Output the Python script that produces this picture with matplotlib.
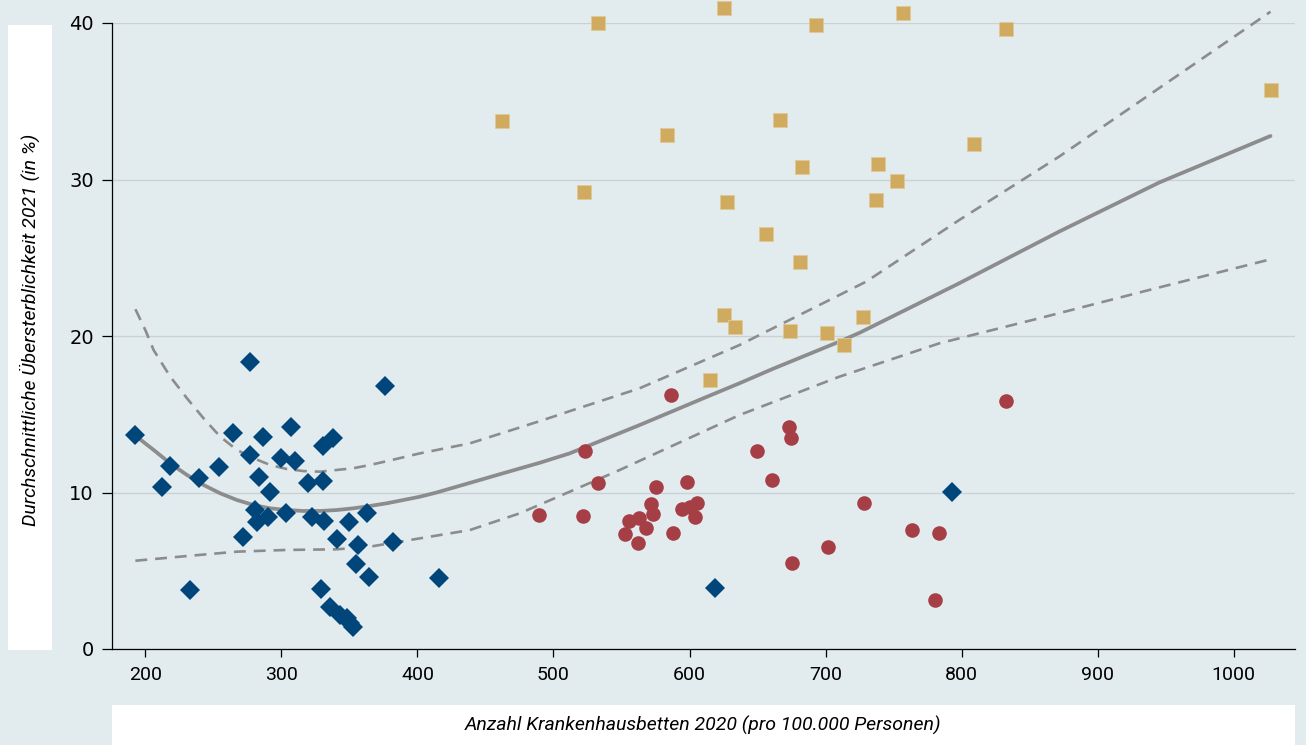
import matplotlib
matplotlib.use("Agg")
import matplotlib.pyplot as plt
from matplotlib.patches import Rectangle

# blue diamonds
blue_x = [277.1, 376.4, 192.7, 218.3, 212.2, 239.1, 254.5, 264.8, 286.4, 307.2,
          277.1, 283.9, 299.8, 310.1, 330.9, 337.7, 291.7, 319.4, 330.9, 280.7,
          282.0, 290.5, 303.5, 322.4, 331.6, 349.9, 362.7, 271.7, 341.2, 356.6,
          381.8, 354.9, 364.6, 415.8, 233.0, 329.2, 335.8, 343.1, 348.0, 350.5,
          352.9, 618.9, 792.7]
blue_y = [18.36, 16.8, 13.67, 11.7, 10.37, 10.95, 11.65, 13.78, 13.57, 14.2,
          12.4, 11.0, 12.19, 12.01, 12.97, 13.46, 10.01, 10.59, 10.73, 8.88,
          8.13, 8.46, 8.67, 8.46, 8.18, 8.13, 8.67, 7.18, 7.03, 6.65,
          6.82, 5.41, 4.62, 4.52, 3.77, 3.81, 2.71, 2.17, 1.96, 1.64,
          1.39, 3.92, 10.05]

# red circles
red_x = [586.2, 832.8, 672.9, 674.7, 523.2, 649.6, 660.3, 532.9, 575.1, 597.8,
         489.6, 521.4, 571.6, 573.3, 555.4, 563.0, 567.8, 552.8, 562.3, 588.2,
         594.8, 600.5, 605.8, 603.7, 728.1, 763.5, 783.5, 701.9, 675.5, 780.1]
red_y = [16.23, 15.85, 14.16, 13.5, 12.67, 12.65, 10.78, 10.59, 10.33, 10.65,
         8.54, 8.52, 9.27, 8.6, 8.18, 8.35, 7.75, 7.33, 6.75, 7.44,
         8.93, 9.09, 9.31, 8.42, 9.35, 7.6, 7.39, 6.54, 5.47, 3.13]

# yellow squares
gold_x = [625.2, 533.0, 693.0, 756.6, 461.8, 583.6, 666.8, 683.0, 738.2, 752.2,
          737.0, 522.5, 627.4, 656.3, 681.0, 625.5, 633.2, 673.6, 701.0, 727.2,
          713.8, 615.2, 832.9, 809.2, 1027.0]
gold_y = [40.99, 40.02, 39.85, 40.66, 33.74, 32.84, 33.8, 30.82, 30.97, 29.9,
          28.69, 29.2, 28.58, 26.5, 24.75, 21.36, 20.6, 20.34, 20.21, 21.19,
          19.4, 17.19, 39.62, 32.27, 35.72]

# fitted curve
fit_x = [192.7, 206.1, 218.3, 230.6, 242.8, 255.0, 267.3, 279.5, 291.7, 304.0,
         316.2, 328.5, 340.7, 352.9, 365.1, 377.4, 401.8, 414.1, 463.0, 489.9,
         511.9, 563.3, 612.3, 636.7, 661.2, 710.1, 724.8, 798.2, 871.6, 945.0,
         1027.0]
fit_y = [13.63, 12.72, 11.86, 11.12, 10.48, 9.95, 9.52, 9.2, 8.99, 8.88,
         8.82, 8.82, 8.88, 8.99, 9.14, 9.31, 9.73, 10.0, 11.23, 11.9,
         12.5, 14.31, 16.1, 16.98, 17.9, 19.64, 20.2, 23.37, 26.67, 29.8,
         32.78]
# upper confidence band
upper_x = [192.7, 200.0, 206.1, 218.3, 230.6, 242.8, 255.0, 267.3, 279.5, 291.7,
           304.0, 316.2, 328.5, 352.9, 365.1, 377.4, 401.8, 438.5, 492.4, 514.4,
           563.3, 636.7, 661.2, 729.7, 798.2, 871.6, 945.0, 1027.0]
upper_y = [21.71, 20.38, 19.1, 17.4, 16.02, 14.74, 13.57, 12.72, 12.19, 11.76,
           11.5, 11.37, 11.33, 11.55, 11.76, 12.0, 12.5, 13.14, 14.63, 15.27,
           16.66, 19.42, 20.49, 23.47, 27.41, 31.46, 35.83, 40.72]
# lower confidence band
lower_x = [192.7, 230.6, 267.3, 304.0, 340.7, 365.1, 401.8, 438.5, 475.2, 511.9,
           548.7, 578.0, 636.7, 710.1, 783.5, 856.9, 945.0, 1027.0]
lower_y = [5.64, 5.94, 6.22, 6.33, 6.37, 6.54, 7.07, 7.6, 8.67, 10.05,
           11.44, 12.61, 14.95, 17.4, 19.53, 21.13, 23.1, 24.9]

x_ticks = [200, 300, 400, 500, 600, 700, 800, 900, 1000]
y_ticks = [0, 10, 20, 30, 40]
x_label = "Anzahl Krankenhausbetten 2020 (pro 100.000 Personen)"
y_label = "Durchschnittliche Übersterblichkeit 2021 (in %)"

BG = "#e2ecef"
NARROW = ["Liberation Sans Narrow", "Roboto", "DejaVu Sans"]
LINE = "#8c8c8c"

fig = plt.figure(figsize=(13.06, 7.45), dpi=100, facecolor=BG)
ax = fig.add_axes([112 / 1306, 1 - 649 / 745, (1295 - 112) / 1306, (649 - 23) / 745])
ax.set_facecolor(BG)

# white label boxes
fig.patches.append(Rectangle((8 / 1306, 1 - 650 / 745), 44 / 1306, 625 / 745,
                             transform=fig.transFigure, facecolor="white",
                             edgecolor="none", zorder=0))
fig.patches.append(Rectangle((112 / 1306, 0), (1295 - 112) / 1306, 40 / 745,
                             transform=fig.transFigure, facecolor="white",
                             edgecolor="none", zorder=0))

ax.set_xlim(175.5, 1045)
ax.set_ylim(0, 40)
ax.set_yticks(y_ticks)
ax.set_xticks(x_ticks)
ax.yaxis.grid(True, color="#c9d1d4", lw=1.0)
ax.set_axisbelow(True)
for s in ("top", "right"):
    ax.spines[s].set_visible(False)
for s in ("left", "bottom"):
    ax.spines[s].set_color("black")
    ax.spines[s].set_linewidth(0.9)
ax.tick_params(axis="y", length=7, width=0.9, labelsize=14, pad=6)
ax.tick_params(axis="x", length=6, width=0.9, labelsize=14, pad=6)
for lab in ax.get_xticklabels():
    lab.set_family(NARROW)

ax.plot(fit_x, fit_y, color=LINE, lw=2.7, zorder=2, solid_capstyle="round",
        solid_joinstyle="round")
ax.plot(upper_x, upper_y, color=LINE, lw=1.9, ls=(0, (4.5, 3.0)), zorder=2,
        clip_on=False)
ax.plot(lower_x, lower_y, color=LINE, lw=1.9, ls=(0, (4.5, 3.0)), zorder=2)

ax.plot(blue_x, blue_y, "D", color="#00467a", ms=10, mew=0, ls="none",
        zorder=3, clip_on=False)
ax.plot(red_x, red_y, "o", color="#a63e46", ms=10.5, mew=0, ls="none",
        zorder=3, clip_on=False)
ax.plot(gold_x, gold_y, "s", color="#d0ab5f", ms=10, mew=0.6, mec="#e0c998",
        ls="none", zorder=3, clip_on=False)

fig.text(30 / 1306, 1 - 330 / 745, y_label, rotation=90, ha="center",
         va="center", fontsize=14, style="italic", family=NARROW)
fig.text((112 + 1295) / 2 / 1306, 1 - 725 / 745, x_label, ha="center",
         va="center", fontsize=14, style="italic", family=NARROW)

fig.savefig("out.png", dpi=100, facecolor=BG)
